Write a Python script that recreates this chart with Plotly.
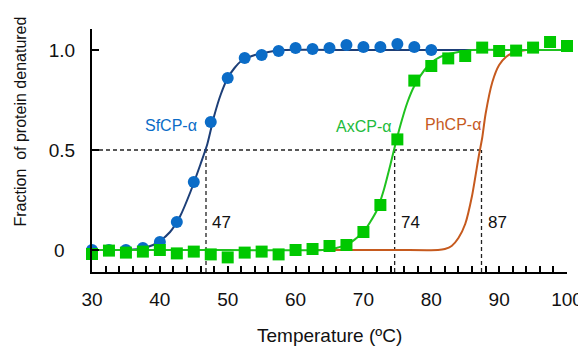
import plotly.graph_objects as go

# ---- data ----
temps = [30, 32.5, 35, 37.5, 40, 42.5, 45, 47.5, 50, 52.5, 55, 57.5, 60, 62.5, 65,
         67.5, 70, 72.5, 75, 77.5, 80, 82.5, 85, 87.5, 90, 92.5, 95, 97.5, 100]

sf_temps = temps[:21]
sf_vals = [0.0, 0.0, 0.0, 0.01, 0.04, 0.14, 0.34, 0.64, 0.86, 0.96, 0.975, 0.995,
           1.01, 1.005, 1.01, 1.025, 1.015, 1.015, 1.03, 1.015, 1.0]

ax_vals = [-0.02, -0.003, -0.013, -0.008, 0.0, -0.017, -0.008, -0.022, -0.037,
           -0.013, -0.008, -0.022, 0.0, 0.005, 0.02, 0.025, 0.09, 0.225, 0.553,
           0.847, 0.92, 0.958, 0.97, 1.012, 0.995, 0.997, 1.012, 1.04, 1.02]

# fitted curves
sf_fit_t = [30, 34, 37, 39, 40, 41.5, 43, 44.5, 46, 47, 48, 49, 50, 51, 52, 54, 56, 58, 70, 86.5]
sf_fit_y = [0, 0, 0.005, 0.025, 0.045, 0.09, 0.17, 0.29, 0.43, 0.53, 0.67, 0.78, 0.86,
            0.91, 0.945, 0.975, 0.99, 1.0, 1.0, 1.0]

ax_fit_t = [30, 50, 64, 66, 68, 70, 71, 72, 73, 74, 74.5, 75.5, 76.5, 77.5, 79, 80.5,
            82, 84, 86, 93, 100]
ax_fit_y = [0, 0, 0, 0.01, 0.035, 0.09, 0.14, 0.2, 0.3, 0.43, 0.5, 0.63, 0.74, 0.82,
            0.9, 0.95, 0.975, 0.99, 1.0, 1.0, 1.0]

ph_fit_t = [63.3, 75, 81, 82, 83, 84, 85, 86, 87, 87.5, 88, 89, 90, 91, 92, 94, 97, 100]
ph_fit_y = [0, 0, 0, 0.005, 0.02, 0.06, 0.13, 0.27, 0.47, 0.56, 0.68, 0.84, 0.925,
            0.965, 0.985, 1.0, 1.0, 1.0]

tm_values = [46.8, 74.6, 87.4]
tm_labels = ["47", "74", "87"]

protein_names = ["SfCP-α", "AxCP-α", "PhCP-α"]

x_tickvals = list(range(30, 101, 2))
x_ticktext = [str(v) if v % 10 == 0 else "" for v in x_tickvals]
y_tickvals = [0, 0.5, 1.0]
y_ticktext = ["0\u00a0\u00a0", "0.5", "1.0"]

# ---- styles ----
BLUE_M = "#0b6cc7"
BLUE_L = "#1d3f78"
GREEN = "#00c800"
GREEN_L = "#1fc21f"
ORANGE = "#c65a1e"
FONT = "Arial, Liberation Sans, sans-serif"

# page body has an 8px margin; compensate
OFF = 8
L, T, PW, PH = 92 - OFF, 29 - OFF, 475, 243

fig = go.Figure()

fig.add_trace(go.Scatter(x=ph_fit_t, y=ph_fit_y, mode="lines",
                         line=dict(color=ORANGE, width=2, shape="spline", smoothing=0.6),
                         hoverinfo="skip"))
fig.add_trace(go.Scatter(x=sf_fit_t, y=sf_fit_y, mode="lines",
                         line=dict(color=BLUE_L, width=2, shape="spline", smoothing=0.6),
                         hoverinfo="skip"))
fig.add_trace(go.Scatter(x=sf_temps, y=sf_vals, mode="markers",
                         marker=dict(symbol="circle", size=12, color=BLUE_M),
                         cliponaxis=False))
fig.add_trace(go.Scatter(x=ax_fit_t, y=ax_fit_y, mode="lines",
                         line=dict(color=GREEN_L, width=2, shape="spline", smoothing=0.6),
                         hoverinfo="skip"))
fig.add_trace(go.Scatter(x=temps, y=ax_vals, mode="markers",
                         marker=dict(symbol="square", size=12, color=GREEN),
                         cliponaxis=False))

y_bottom = -0.11
dash_style = dict(color="#222222", width=1.3, dash="4px,3px")
# horizontal half-denaturation line
fig.add_shape(type="line", xref="x", yref="y", x0=30, x1=max(tm_values), y0=0.5, y1=0.5,
              line=dash_style, layer="below")
for tm, lab in zip(tm_values, tm_labels):
    fig.add_shape(type="line", xref="x", yref="y", x0=tm, x1=tm, y0=y_bottom, y1=0.5,
                  line=dash_style, layer="below")
    fig.add_annotation(x=tm + 0.6, y=0.14, text=lab, showarrow=False, xanchor="left",
                       font=dict(size=17, color="#111111", family=FONT))

label_pos = [(41.65, 0.625, BLUE_M), (70.0, 0.62, "#22bb3c"), (83.2, 0.63, ORANGE)]
for name, (lx, ly, c) in zip(protein_names, label_pos):
    fig.add_annotation(x=lx, y=ly, text=name, showarrow=False,
                       font=dict(size=16, color=c, family=FONT))

fig.add_annotation(xref="paper", yref="paper", x=(20 - 92) / PW, y=(272 - 121.5) / PH,
                   xanchor="center", yanchor="middle",
                   text="Fraction  of protein denatured", textangle=-90, showarrow=False,
                   font=dict(size=16, color="#111111", family=FONT))
fig.add_annotation(xref="paper", yref="paper", x=(329 - 92) / PW, y=-(335.5 - 272) / PH,
                   xanchor="center", yanchor="middle",
                   text="Temperature (ºC)", showarrow=False,
                   font=dict(size=19, color="#111111", family=FONT))

fig.update_layout(
    width=586 - OFF, height=346 - OFF,
    margin=dict(l=L, r=586 - OFF - L - PW, t=T, b=346 - OFF - T - PH, autoexpand=False),
    paper_bgcolor="white", plot_bgcolor="white",
    showlegend=False,
    font=dict(family=FONT, color="#111111"),
    xaxis=dict(range=[30, 100], showgrid=False, zeroline=False, showline=True,
               linecolor="black", linewidth=2, ticks="inside", ticklen=6, tickwidth=1.5,
               tickcolor="black", tickvals=x_tickvals, ticktext=x_ticktext,
               tickfont=dict(size=19, family=FONT, color="#111111"),
               ticklabelstandoff=9, automargin=False),
    yaxis=dict(range=[y_bottom, 1.105], showgrid=False, zeroline=False, showline=True,
               linecolor="black", linewidth=2, ticks="inside", ticklen=7, tickwidth=1.5,
               tickcolor="black", tickvals=y_tickvals, ticktext=y_ticktext,
               tickfont=dict(size=19, family=FONT, color="#111111"),
               ticklabelstandoff=11, automargin=False),
)

fig.write_html("out.html")
